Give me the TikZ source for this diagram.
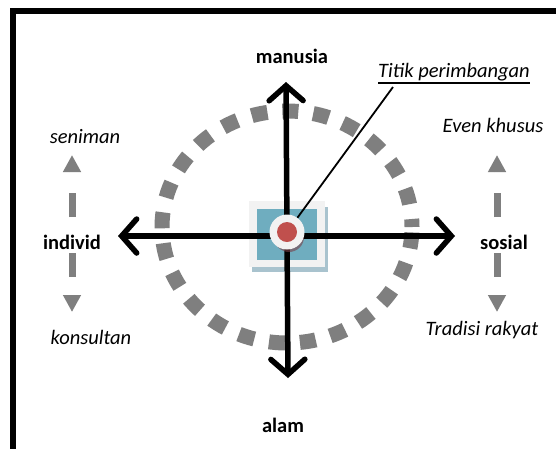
\documentclass[tikz,border=0pt]{standalone}
\usepackage{fontspec}
\setmainfont{Carlito}
\usetikzlibrary{arrows.meta}
\definecolor{dgray}{HTML}{7F7F7F}
\definecolor{tealc}{HTML}{6FADBF}
\definecolor{lgray}{HTML}{F2F2F2}
\definecolor{shadowb}{HTML}{A9C3CE}
\definecolor{redc}{HTML}{C0504D}
\definecolor{shadowr}{HTML}{7A4048}
\begin{document}
\begin{tikzpicture}[x=1pt,y=-1pt,
  lbl/.style={font=\fontsize{20.5}{24}\selectfont, inner sep=0pt, anchor=base},
  boldlbl/.style={lbl, font=\fontsize{20.5}{24}\selectfont\bfseries},
  itlbl/.style={lbl, font=\fontsize{20.5}{24}\selectfont\itshape},
  axis/.style={line width=5.5pt, line cap=round, -{Straight Barb[length=15pt,width=34pt,line cap=round]}},
  garrow/.style={dgray, line width=7pt, dash pattern=on 24pt off 21pt, -{Triangle[length=17pt,width=17pt]}},
]
\useasboundingbox (0,0) rectangle (556,448);
\clip (0,0) rectangle (556,448);
\fill[white] (0,0) rectangle (556,448);
\draw[line width=6pt] (13,11) rectangle (620,520);

% dotted ellipse
\draw[dgray, line width=15pt, dash pattern=on 16pt off 15pt, dash phase=8pt] (287,227) ellipse [x radius=125pt, y radius=116pt];

% centre squares
\fill[shadowb] (252,207) rectangle (328,272);
\fill[lgray] (249,201) rectangle (325,267);
\fill[tealc] (257,209) rectangle (317,260);

% axes
\coordinate (c) at (287,236);
\coordinate (top) at (286,82);
\coordinate (bot) at (288,378);
\coordinate (lft) at (118,236);
\coordinate (rgt) at (455,236);
\draw[axis] (c) -- (top);
\draw[axis] (c) -- (bot);
\draw[axis] (c) -- (lft);
\draw[axis] (c) -- (rgt);

% centre point
\fill[shadowr, opacity=0.6] (289,237) circle [radius=15pt];
\node[circle, minimum size=35pt, inner sep=0pt, fill=lgray] (tp) at (287,232) {};
\fill[redc] (tp.center) circle [radius=10pt];

% labels
\node[boldlbl] (manusia) at (292,63) {manusia};
\node[boldlbl] (alam) at (283,432) {alam};
\node[boldlbl] (individ) at (72,249) {individ};
\node[boldlbl] (sosial) at (504,249) {sosial};
\node[itlbl] (seniman) at (85,143) {seniman};
\node[itlbl] (konsultan) at (91,344) {konsultan};
\node[itlbl] (even) at (493,132) {Even khusus};
\node[itlbl] (tradisi) at (482,335) {Tradisi rakyat};
\node[itlbl, anchor=base west] (title) at (378,77) {Titik perimbangan};
\draw[line width=1.6pt] ([yshift=-6pt]title.base west) -- ([yshift=-6pt]title.base east);

% leader
\coordinate (lead) at (393,87);
\draw[line width=1.8pt] (tp) -- (lead);

% grey double arrows
\coordinate (l1) at (72,217);
\coordinate (l1t) at (72,155);
\coordinate (l2) at (72,253);
\coordinate (l2t) at (72,312);
\coordinate (r1) at (497,217);
\coordinate (r1t) at (497,155);
\coordinate (r2) at (497,253);
\coordinate (r2t) at (497,312);
\draw[garrow] (l1) -- (l1t);
\draw[garrow] (l2) -- (l2t);
\draw[garrow] (r1) -- (r1t);
\draw[garrow] (r2) -- (r2t);
\end{tikzpicture}
\end{document}
